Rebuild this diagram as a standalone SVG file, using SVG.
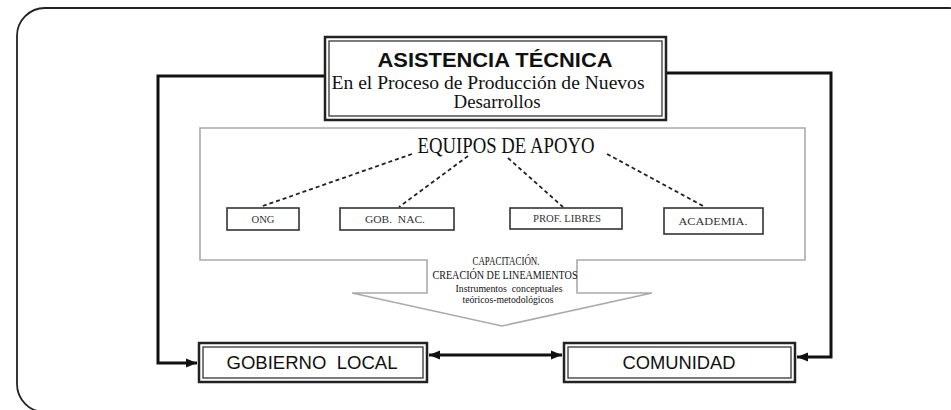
<svg xmlns="http://www.w3.org/2000/svg" width="951" height="410" viewBox="0 0 951 410">
  <style>
    .frame { fill: none; stroke: #222; stroke-width: 1.8; }
    .dbl-out { fill: #fff; stroke: #222; stroke-width: 2.5; }
    .dbl-in { fill: none; stroke: #444; stroke-width: 1.4; }
    .small { fill: #fff; stroke: #333; stroke-width: 1.6; }
    .cont { fill: #fff; stroke: #aaa; stroke-width: 1.6; }
    .conn { fill: none; stroke: #111; stroke-width: 3; }
    .dash { fill: none; stroke: #222; stroke-width: 1.8; stroke-dasharray: 4 3; }
    .sans { font-family: "Liberation Sans", Arial, sans-serif; fill: #111; }
    .serif { font-family: "Liberation Serif", "Times New Roman", serif; fill: #111; }
    .lbl { font-family: "Liberation Serif", "Times New Roman", serif; fill: #333; font-size: 11px; }
  </style>
  <defs>
    <marker id="arr" markerUnits="userSpaceOnUse" markerWidth="12" markerHeight="12" viewBox="0 0 12 12" refX="11" refY="6" orient="auto-start-reverse">
      <path d="M0,1.5 L11,6 L0,10.5 Z" fill="#111"/>
    </marker>
  </defs>
  <rect width="951" height="410" fill="#fff"/>
  <rect class="frame" x="17" y="8" width="960" height="404" rx="28" ry="28"/>

  <g id="equipos-container">
    <polygon class="cont" points="200,128 805,128 805,260 577,260 577,293 652,293 502,326 352,293 427,293 427,260 200,260"/>
    <text class="serif" x="506" y="153" font-size="23" text-anchor="middle" textLength="177" lengthAdjust="spacingAndGlyphs">EQUIPOS DE APOYO</text>
    <text class="serif" x="506" y="265" font-size="12" text-anchor="middle" textLength="67" lengthAdjust="spacingAndGlyphs">CAPACITACIÓN.</text>
    <text class="serif" x="505" y="279" font-size="13" text-anchor="middle" textLength="145" lengthAdjust="spacingAndGlyphs">CREACIÓN DE LINEAMIENTOS</text>
    <text class="serif" x="509" y="292" font-size="9.5" fill="#333" text-anchor="middle" textLength="107" lengthAdjust="spacingAndGlyphs" xml:space="preserve">Instrumentos  conceptuales</text>
    <text class="serif" x="508" y="303" font-size="9.5" fill="#333" text-anchor="middle" textLength="91" lengthAdjust="spacingAndGlyphs">teóricos-metodológicos</text>
  </g>

  <g id="connectors">
    <polyline class="conn" points="325,76 158,76 158,363 197,363" marker-end="url(#arr)"/>
    <polyline class="conn" points="666,73 831,73 831,357 797,357" marker-end="url(#arr)"/>
    <line class="conn" x1="429" y1="355" x2="562" y2="355" marker-start="url(#arr)" marker-end="url(#arr)"/>
    <line class="dash" x1="412" y1="154" x2="260" y2="207"/>
    <line class="dash" x1="468" y1="156" x2="399" y2="207"/>
    <line class="dash" x1="508" y1="158" x2="563" y2="207"/>
    <line class="dash" x1="607" y1="154" x2="705" y2="207"/>
  </g>

  <g id="asistencia">
    <rect class="dbl-out" x="325" y="37" width="341" height="83"/>
    <rect class="dbl-in" x="329" y="41" width="333" height="75"/>
    <text class="sans" x="495" y="67" font-size="20" font-weight="bold" text-anchor="middle" textLength="235" lengthAdjust="spacingAndGlyphs">ASISTENCIA TÉCNICA</text>
    <text class="serif" x="488" y="89" font-size="18" text-anchor="middle" textLength="313" lengthAdjust="spacingAndGlyphs">En el Proceso de Producción de Nuevos</text>
    <text class="serif" x="497" y="108" font-size="18" text-anchor="middle" textLength="87" lengthAdjust="spacingAndGlyphs">Desarrollos</text>
  </g>

  <g id="ong">
    <rect class="small" x="227" y="208" width="72" height="22"/>
    <text class="lbl" x="263" y="223" text-anchor="middle" textLength="23" lengthAdjust="spacingAndGlyphs">ONG</text>
  </g>
  <g id="gob-nac">
    <rect class="small" x="340" y="208" width="114" height="22"/>
    <text class="lbl" x="395" y="223" text-anchor="middle" textLength="60" lengthAdjust="spacingAndGlyphs" xml:space="preserve">GOB.  NAC.</text>
  </g>
  <g id="prof-libres">
    <rect class="small" x="510" y="208" width="112" height="21"/>
    <text class="lbl" x="567" y="222" text-anchor="middle" textLength="68" lengthAdjust="spacingAndGlyphs">PROF. LIBRES</text>
  </g>
  <g id="academia">
    <rect class="small" x="664" y="208" width="99" height="26"/>
    <text class="lbl" x="713" y="225" text-anchor="middle" textLength="69" lengthAdjust="spacingAndGlyphs">ACADEMIA.</text>
  </g>

  <g id="gobierno-local">
    <rect class="dbl-out" x="199" y="343" width="228" height="39"/>
    <rect class="dbl-in" x="203" y="347" width="220" height="31"/>
    <text class="sans" x="312" y="369" font-size="19" text-anchor="middle" textLength="171" lengthAdjust="spacingAndGlyphs" xml:space="preserve">GOBIERNO  LOCAL</text>
  </g>
  <g id="comunidad">
    <rect class="dbl-out" x="564" y="343" width="231" height="39"/>
    <rect class="dbl-in" x="568" y="347" width="223" height="31"/>
    <text class="sans" x="679" y="369" font-size="19" text-anchor="middle" textLength="113" lengthAdjust="spacingAndGlyphs">COMUNIDAD</text>
  </g>
</svg>
